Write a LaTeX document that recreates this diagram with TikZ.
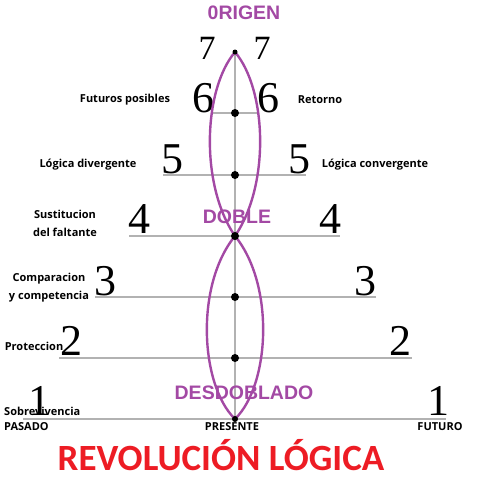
\documentclass[tikz,border=0pt]{standalone}
\usepackage{fontspec}
\setmainfont{Liberation Serif}
\newfontfamily\lblfont{Open Sans}
\newfontfamily\tagfont{Liberation Sans}
\newfontfamily\redfont{Carlito}
\definecolor{paintpurple}{RGB}{163,73,164}
\definecolor{paintred}{RGB}{237,28,36}

\begin{document}
\begin{tikzpicture}[x=1pt,y=-1pt,
  rung/.style={draw=black!30, line width=1.3pt},
  lobe/.style={draw=paintpurple, line width=2.4pt},
  num/.style={anchor=base, inner sep=0pt, font=\fontsize{44}{44}\selectfont},
  lbl/.style={inner sep=0pt, align=center, font=\lblfont\bfseries\fontsize{11}{18}\selectfont},
  tag/.style={inner sep=0pt, text=paintpurple, font=\tagfont\bfseries\fontsize{19.5}{20}\selectfont}]
\useasboundingbox (0,0) rectangle (479,480);

% centre of each level
\coordinate (c7) at (235,52);
\coordinate (c6) at (235,113);
\coordinate (c5) at (235,175);
\coordinate (c4) at (235,236);
\coordinate (c3) at (235,297);
\coordinate (c2) at (235,358);
\coordinate (c1) at (235,419);

% rungs
\draw[rung] (c7) -- (c1);
\draw[rung] (213,113) coordinate (l6) -- (258,113) coordinate (r6);
\draw[rung] (163,175) coordinate (l5) -- (306,175) coordinate (r5);
\draw[rung] (129,236) coordinate (l4) -- (340,236) coordinate (r4);
\draw[rung] (95,297) coordinate (l3) -- (376,297) coordinate (r3);
\draw[rung] (59,358) coordinate (l2) -- (412,358) coordinate (r2);
\draw[rung] (23,419) coordinate (l1) -- (446,419) coordinate (r1);

% numbers
\node[num, font=\fontsize{34}{34}\selectfont] (n7l) at (207,59) {7};
\node[num, font=\fontsize{34}{34}\selectfont] (n7r) at (262,59) {7};
\node[num] (n6l) at (203,112) {6};
\node[num] (n6r) at (268,112) {6};
\node[num] (n5l) at (172,173) {5};
\node[num] (n5r) at (299,173) {5};
\node[num] (n4l) at (139,233) {4};
\node[num] (n4r) at (330,233) {4};
\node[num] (n3l) at (105,295) {3};
\node[num] (n3r) at (365,295) {3};
\node[num] (n2l) at (71,355) {2};
\node[num] (n2r) at (400,355) {2};
\node[num] (n1l) at (39,415) {1};
\node[num] (n1r) at (438,415) {1};

% side labels
\node[lbl] (futuros) at (125,100) {Futuros posibles};
\node[lbl] (retorno) at (320,100) {Retorno};
\node[lbl] (diverg) at (88,165) {Lógica divergente};
\node[lbl] (converg) at (375,165) {Lógica convergente};
\node[lbl] (sustit) at (65,223) {Sustitucion\\del faltante};
\node[lbl] (compar) at (49,288) {Comparacion\\y competencia};
\node[lbl] (protec) at (34,346) {Proteccion};
\node[lbl, anchor=west] (sobrev) at (4,411) {Sobrevivencia};
\node[lbl, anchor=west] (pasado) at (4,427) {PASADO};
\node[lbl] (presente) at (232,427) {PRESENTE};
\node[lbl] (futuro) at (440,427) {FUTURO};

% titles
\node[tag] (origen) at (244,13) {0RIGEN};
\node[tag] (doble) at (237,217) {DOBLE};
\node[tag] (desdob) at (244,393) {DESDOBLADO};
\node[inner sep=0pt, text=paintred, font=\redfont\bfseries\fontsize{37}{37}\selectfont] (revol) at (221,455) {REVOLUCIÓN LÓGICA};

% the two strands
\draw[lobe] (c7) .. controls (203,90) and (200,185) .. (c4)
                 .. controls (275,285) and (270,385) .. (c1);
\draw[lobe] (c7) .. controls (267,90) and (270,185) .. (c4)
                 .. controls (195,285) and (200,385) .. (c1);

% dots
\fill[black] (c7) circle (2.5pt);
\foreach \k in {6,5,4,3,2} {\fill[black] (c\k) circle (4pt);}
\fill[black] (c1) circle (3pt);
\end{tikzpicture}
\end{document}
